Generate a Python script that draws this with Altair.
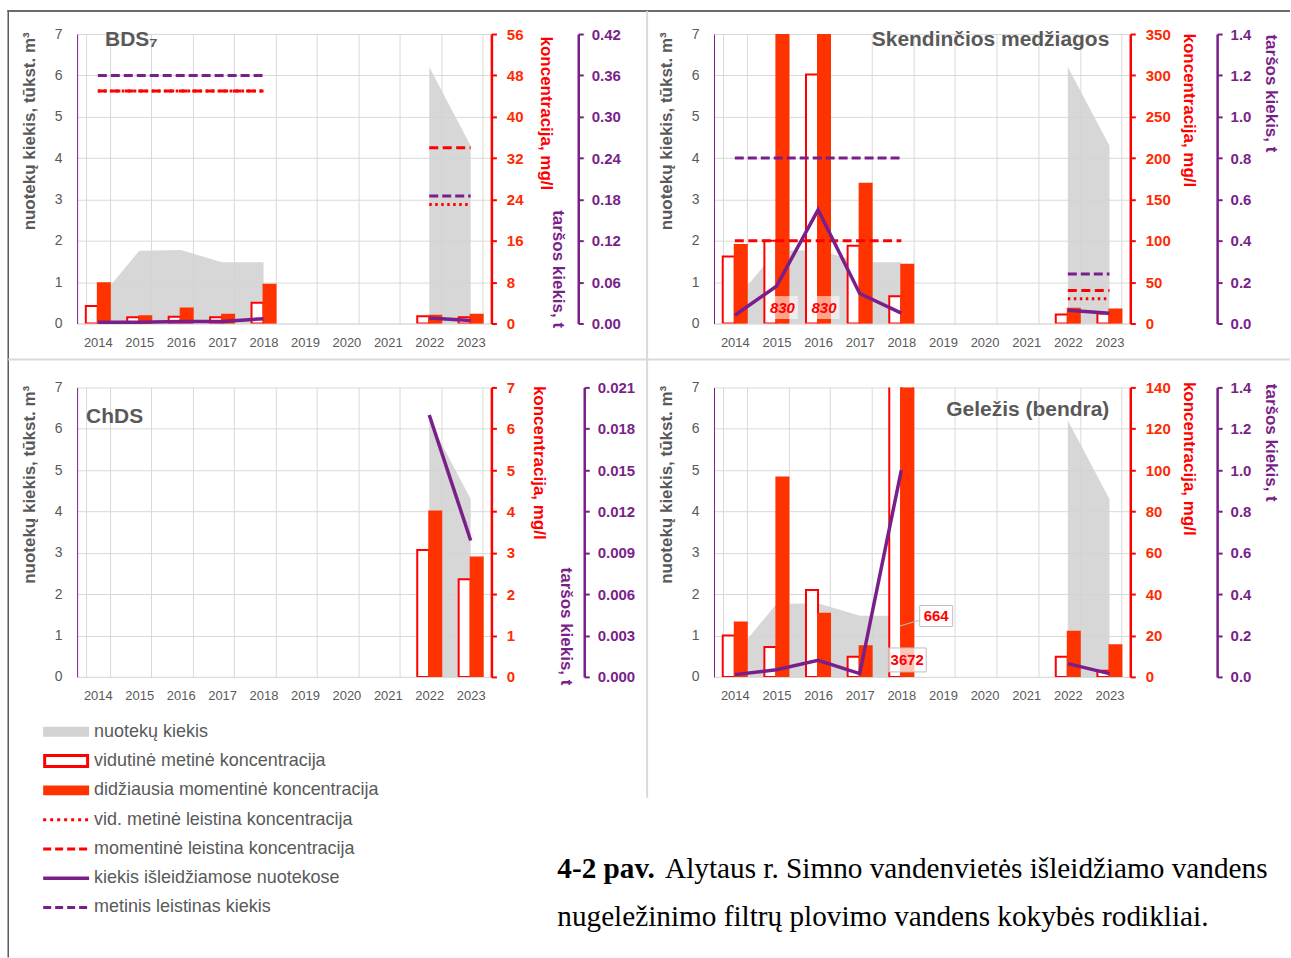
import altair as alt
import pandas as pd

# ---------------------------------------------------------------- data
YEARS = ["2014", "2015", "2016", "2017", "2018", "2019", "2020", "2021", "2022", "2023"]

# nuotekų kiekis, tūkst. m³
FLOW_VOLUME = [0.55, 1.76, 1.78, 1.48, 1.48, None, None, None, 6.2, 4.3]
FLOW_VOLUME_CHDS = [None, None, None, None, None, None, None, None, 6.2, 4.3]

# BDS7, mg/l and t
BDS_AVG = [3.4, 1.2, 1.3, 1.2, 4.0, None, None, None, 1.4, 1.2]
BDS_MAX = [7.8, 1.4, 2.9, 1.7, 7.5, None, None, None, 1.5, 1.7]
BDS_LOAD = [0.002, 0.002, 0.003, 0.003, 0.007, None, None, None, 0.008, 0.0045]
BDS_LIM_AVG = [45, 45, 45, 45, 45, None, None, None, 23, 23]
BDS_LIM_MAX = [45, 45, 45, 45, 45, None, None, None, 34, 34]
BDS_LIM_LOAD = [0.36, 0.36, 0.36, 0.36, 0.36, None, None, None, 0.185, 0.185]
BDS_CONC_TICKS = [0, 8, 16, 24, 32, 40, 48, 56]
BDS_LOAD_TICKS = [0, 0.06, 0.12, 0.18, 0.24, 0.30, 0.36, 0.42]

# Skendinčios medžiagos
SM_AVG = [81, 100, 301, 94, 33, None, None, None, 11, 12]
SM_MAX = [95, 830, 830, 169, 71, None, None, None, 18, 17]
SM_LOAD = [0.04, 0.18, 0.55, 0.145, 0.05, None, None, None, 0.064, 0.05]
SM_LIM_AVG = [None, None, None, None, None, None, None, None, 30, 30]
SM_LIM_MAX = [100, 100, 100, 100, 100, None, None, None, 40, 40]
SM_LIM_LOAD = [0.8, 0.8, 0.8, 0.8, 0.8, None, None, None, 0.24, 0.24]
SM_CONC_TICKS = [0, 50, 100, 150, 200, 250, 300, 350]
SM_LOAD_TICKS = [0, 0.2, 0.4, 0.6, 0.8, 1.0, 1.2, 1.4]

# ChDS
CHDS_AVG = [None, None, None, None, None, None, None, None, 3.07, 2.36]
CHDS_MAX = [None, None, None, None, None, None, None, None, 4.0, 2.89]
CHDS_LOAD = [None, None, None, None, None, None, None, None, 0.019, 0.0099]
CHDS_CONC_TICKS = [0, 1, 2, 3, 4, 5, 6, 7]
CHDS_LOAD_TICKS = [0, 0.003, 0.006, 0.009, 0.012, 0.015, 0.018, 0.021]

# Geležis (bendra)
FE_AVG = [20, 14.5, 42, 9.7, 664, None, None, None, 9.7, 3]
FE_MAX = [26.3, 96.4, 30.6, 14.8, 3672, None, None, None, 21.8, 15.3]
FE_LOAD = [0.011, 0.035, 0.08, 0.016, 1.0, None, None, None, 0.064, 0.016]
FE_CONC_TICKS = [0, 20, 40, 60, 80, 100, 120, 140]
FE_LOAD_TICKS = [0, 0.2, 0.4, 0.6, 0.8, 1.0, 1.2, 1.4]

VOLUME_TICKS = [0, 1, 2, 3, 4, 5, 6, 7]
NO_VALUES = [None, None, None, None, None, None, None, None, None, None]

LEGEND_ITEMS = [
    "nuotekų kiekis",
    "vidutinė metinė koncentracija",
    "didžiausia momentinė koncentracija",
    "vid. metinė leistina koncentracija",
    "momentinė leistina koncentracija",
    "kiekis išleidžiamose nuotekose",
    "metinis leistinas kiekis",
]

CAPTION_LABEL = "4-2 pav."
CAPTION_LINE1 = "Alytaus r. Simno vandenvietės išleidžiamo vandens"
CAPTION_LINE2 = "nugeležinimo filtrų plovimo vandens kokybės rodikliai."

# ---------------------------------------------------------------- style
SANS = "Liberation Sans, Arial, Helvetica, sans-serif"
SERIF = "Liberation Serif, Times New Roman, serif"
GRAY = "#595959"
GRID = "#d9d9d9"
AREA = "#d2d2d2"
RED = "#ff0000"
ORANGE = "#ff3300"
PURPLE = "#7a1f8a"
PLOT_H = 290

XSCALE = alt.Scale(type="band", domain=YEARS, paddingInner=0.42, paddingOuter=0.21)
XAXIS = alt.Axis(
    title=None, labelAngle=0, labelColor=GRAY, labelFontSize=13, labelPadding=13,
    ticks=False, domainColor=GRID, grid=True, gridColor=GRID, tickBand="extent",
)


def x_center():
    return alt.X("year:N", scale=XSCALE, axis=XAXIS, bandPosition=0.5)


def x_band():
    return alt.X("year:N", scale=XSCALE, axis=XAXIS)


def runs(values):
    """Rows for the defined values, numbered by unbroken run of years."""
    rows, seg, prev = [], 0, None
    for year, v in zip(YEARS, values):
        if v is None:
            prev = None
            continue
        if prev is None:
            seg += 1
        rows.append({"year": year, "value": v, "seg": seg})
        prev = v
    return pd.DataFrame(rows, columns=["year", "value", "seg"])


def bar_rows(avg, mx):
    rows = []
    for year, a, m in zip(YEARS, avg, mx):
        if a is not None:
            rows.append({"year": year, "series": "avg", "value": a})
        if m is not None:
            rows.append({"year": year, "series": "max", "value": m})
    df = pd.DataFrame(rows)
    df["label"] = df["value"].map(lambda v: f"{v:.0f}")
    return df


ONE = pd.DataFrame({"k": [0]})


def panel(p):
    conc_max = p["conc_ticks"][-1]
    load_max = p["load_ticks"][-1]

    y_vol = alt.Y(
        "value:Q", scale=alt.Scale(domain=[0, 7], nice=False), stack=False,
        axis=alt.Axis(
            orient="left", values=VOLUME_TICKS, grid=True, gridColor=GRID,
            domainColor=PURPLE, domainWidth=1, ticks=False, labelColor=GRAY,
            labelFontSize=14, labelPadding=15,
            title="nuotekų kiekis, tūkst. m³", titleColor=GRAY, titleFontSize=17,
            titleFontWeight="bold", titleAngle=270, titleAlign="center",
            titleBaseline="middle", titleX=-48, titleY=97,
        ),
    )
    y_conc = alt.Y(
        "value:Q", scale=alt.Scale(domain=[0, conc_max], nice=False),
        axis=alt.Axis(
            orient="right", values=p["conc_ticks"], grid=False,
            domainColor=RED, domainWidth=2.5, tickColor=RED, tickWidth=2, tickSize=5,
            labelColor="#ff2a00", labelFontWeight="bold", labelFontSize=15, labelPadding=10,
            title="koncentracija, mg/l", titleColor=RED, titleFontSize=17,
            titleFontWeight="bold", titleAngle=90, titleAlign="center",
            titleBaseline="middle", titleX=p["conc_title"][0], titleY=p["conc_title"][1],
        ),
    )
    y_load = alt.Y(
        "value:Q", scale=alt.Scale(domain=[0, load_max], nice=False),
        axis=alt.Axis(
            orient="right", offset=p["load_offset"], values=p["load_ticks"],
            format=p["load_fmt"], grid=False,
            domainColor=PURPLE, domainWidth=2.5, tickColor=PURPLE, tickWidth=2, tickSize=5,
            labelColor=PURPLE, labelFontWeight="bold", labelFontSize=15, labelPadding=8,
            title="taršos kiekis, t", titleColor=PURPLE, titleFontSize=17,
            titleFontWeight="bold", titleAngle=90, titleAlign="center",
            titleBaseline="middle", titleX=p["load_title"][0], titleY=p["load_title"][1],
        ),
    )

    # gray area: discharged volume, one piece per unbroken run of years
    area = alt.Chart(runs(p["flow"])).mark_area(color=AREA, opacity=0.88).encode(
        x=x_center(), y=y_vol, detail="seg:N"
    )

    # concentration bars and permitted concentration lines
    bars_df = bar_rows(p["avg"], p["max"])
    bars = alt.Chart(bars_df).mark_bar(clip=True, strokeWidth=2).encode(
        x=x_band(),
        xOffset=alt.XOffset("series:N", scale=alt.Scale(domain=["avg", "max"])),
        y=y_conc,
        fill=alt.Fill("series:N", scale=alt.Scale(domain=["avg", "max"], range=["#ffffff", ORANGE]), legend=None),
        stroke=alt.Stroke("series:N", scale=alt.Scale(domain=["avg", "max"], range=[RED, ORANGE]), legend=None),
    )
    conc_layers = [bars]
    lim_max = runs(p["lim_max"])
    if len(lim_max):
        conc_layers.append(
            alt.Chart(lim_max).mark_line(color=RED, strokeWidth=3, strokeDash=[9, 4.5]).encode(
                x=x_center(), y=y_conc, detail="seg:N"))
    lim_avg = runs(p["lim_avg"])
    if len(lim_avg):
        conc_layers.append(
            alt.Chart(lim_avg).mark_line(color=RED, strokeWidth=3, strokeDash=[2.5, 3.5]).encode(
                x=x_center(), y=y_conc, detail="seg:N"))
    conc = alt.layer(*conc_layers)

    # pollutant load and its annual limit
    load_layers = [
        alt.Chart(runs(p["load"])).mark_line(color=PURPLE, strokeWidth=3.5).encode(
            x=x_center(), y=y_load, detail="seg:N")
    ]
    lim_load = runs(p["lim_load"])
    if len(lim_load):
        load_layers.append(
            alt.Chart(lim_load).mark_line(color=PURPLE, strokeWidth=3, strokeDash=[9, 4]).encode(
                x=x_center(), y=y_load, detail="seg:N"))
    load = alt.layer(*load_layers)

    layers = [area, conc, load]

    # values of bars that run past the top of the scale
    for series, lab in p["labels"].items():
        over = bars_df[(bars_df["series"] == series) & (bars_df["value"] > conc_max)]
        base = alt.Chart(over)
        enc = dict(x=x_band(), xOffset=alt.XOffset("series:N", scale=alt.Scale(domain=["avg", "max"])),
                   y=alt.value(lab["y"]))
        box = dict(shape=lab["box"], size=lab["size"], filled=True, fill="white",
                   fillOpacity=lab["box_opacity"], opacity=1)
        if lab.get("box_stroke"):
            box.update(stroke=lab["box_stroke"], strokeWidth=1)
        else:
            box.update(strokeWidth=0)
        layers.append(base.mark_point(**box).encode(**enc))
        layers.append(
            base.mark_text(font=SANS, fontSize=15, fontWeight="bold", fontStyle=lab["style"],
                           color=RED, dx=lab["dx"], baseline="middle", align="center")
            .encode(text="label:N", **enc))

    layers.append(
        alt.Chart(pd.DataFrame({"t": [p["title"]]})).mark_text(
            font=SANS, fontSize=21, fontWeight="bold", color=GRAY,
            align=p["title_align"], baseline="alphabetic",
        ).encode(x=alt.value(p["title_pos"][0]), y=alt.value(p["title_pos"][1]), text="t:N"))

    layers.extend(p.get("extra", []))

    return (
        alt.layer(*layers)
        .resolve_scale(y="independent")
        .properties(width=p["width"], height=PLOT_H)
    )


# page frame lines (drawn from the first panel's origin)
frame = [
    alt.Chart(ONE).mark_rule(color="#3a3a3a", strokeWidth=1.5).encode(
        x=alt.value(-70), x2=alt.value(1215), y=alt.value(-23)),
    alt.Chart(ONE).mark_rule(color="#5a5a5a", strokeWidth=1.5).encode(
        x=alt.value(-69), y=alt.value(-23), y2=alt.value(925)),
    alt.Chart(ONE).mark_rule(color=GRID, strokeWidth=2).encode(
        x=alt.value(571), y=alt.value(-23), y2=alt.value(765)),
    alt.Chart(ONE).mark_rule(color=GRID, strokeWidth=2).encode(
        x=alt.value(-69), x2=alt.value(1215), y=alt.value(326)),
]

PANELS = [
    dict(title="BDS₇", title_pos=(28, 12), title_align="left", width=415,
         flow=FLOW_VOLUME, avg=BDS_AVG, max=BDS_MAX, load=BDS_LOAD,
         lim_avg=BDS_LIM_AVG, lim_max=BDS_LIM_MAX, lim_load=BDS_LIM_LOAD,
         conc_ticks=BDS_CONC_TICKS, load_ticks=BDS_LOAD_TICKS, load_fmt=".2f",
         load_offset=87, conc_title=(54, 79), load_title=(-21, 235),
         labels={}, extra=frame),
    dict(title="Skendinčios medžiagos", title_pos=(396, 12), title_align="right", width=417,
         flow=FLOW_VOLUME, avg=SM_AVG, max=SM_MAX, load=SM_LOAD,
         lim_avg=SM_LIM_AVG, lim_max=SM_LIM_MAX, lim_load=SM_LIM_LOAD,
         conc_ticks=SM_CONC_TICKS, load_ticks=SM_LOAD_TICKS, load_fmt=".1f",
         load_offset=87, conc_title=(58, 76), load_title=(53, 59),
         labels={"max": dict(y=274, dx=0, style="italic", box="M-1.35,-1H1.35V1H-1.35Z",
                             size=529, box_opacity=0.55)}),
    dict(title="ChDS", title_pos=(9, 36), title_align="left", width=415,
         flow=FLOW_VOLUME_CHDS, avg=CHDS_AVG, max=CHDS_MAX, load=CHDS_LOAD,
         lim_avg=NO_VALUES, lim_max=NO_VALUES, lim_load=NO_VALUES,
         conc_ticks=CHDS_CONC_TICKS, load_ticks=CHDS_LOAD_TICKS, load_fmt=".3f",
         load_offset=93, conc_title=(47, 75), load_title=(-19, 239),
         labels={}),
    dict(title="Geležis (bendra)", title_pos=(396, 29), title_align="right", width=417,
         flow=FLOW_VOLUME, avg=FE_AVG, max=FE_MAX, load=FE_LOAD,
         lim_avg=NO_VALUES, lim_max=NO_VALUES, lim_load=NO_VALUES,
         conc_ticks=FE_CONC_TICKS, load_ticks=FE_LOAD_TICKS, load_fmt=".1f",
         load_offset=87, conc_title=(58, 71), load_title=(53, 55),
         labels={
             "avg": dict(y=229, dx=41, style="normal",
                         box="M2.33,-1H5.48V1H2.33Z M2.33,0.4L0.45,0.95",
                         size=441, box_opacity=1, box_stroke="#bfbfbf"),
             "max": dict(y=273, dx=0, style="normal", box="M-1.58,-1H1.58V1H-1.58Z",
                         size=576, box_opacity=0.72, box_stroke="#bfbfbf"),
         }),
]

panels = [panel(p) for p in PANELS]

# ---------------------------------------------------------------- legend
leg_base = alt.Chart(pd.DataFrame({"item": LEGEND_ITEMS}))
leg_y = alt.Y("item:N", sort=LEGEND_ITEMS,
              scale=alt.Scale(type="point", domain=LEGEND_ITEMS, range=[-9, 167], padding=0),
              axis=None)


def legend_rule(item, color, width, dash=None, x0=-34, x1=12):
    kw = dict(color=color, strokeWidth=width, strokeCap="butt")
    if dash:
        kw["strokeDash"] = dash
    return (leg_base.transform_filter(alt.datum.item == item)
            .mark_rule(**kw).encode(x=alt.value(x0), x2=alt.value(x1), y=leg_y))


legend = alt.layer(
    legend_rule(LEGEND_ITEMS[0], AREA, 10),
    legend_rule(LEGEND_ITEMS[1], RED, 14),
    legend_rule(LEGEND_ITEMS[1], "#ffffff", 8, x0=-31, x1=9),
    legend_rule(LEGEND_ITEMS[2], ORANGE, 10),
    legend_rule(LEGEND_ITEMS[3], RED, 3, dash=[3, 4]),
    legend_rule(LEGEND_ITEMS[4], RED, 3, dash=[8, 4]),
    legend_rule(LEGEND_ITEMS[5], PURPLE, 3.5),
    legend_rule(LEGEND_ITEMS[6], PURPLE, 3, dash=[8, 4]),
    leg_base.mark_text(align="left", baseline="middle", font=SANS, fontSize=18, color=GRAY)
    .encode(x=alt.value(17), y=leg_y, text="item:N"),
).properties(width=415, height=170)

# ---------------------------------------------------------------- caption
cap = pd.DataFrame({"a": [CAPTION_LABEL], "b": [CAPTION_LINE1], "c": [CAPTION_LINE2]})
caption = alt.layer(
    alt.Chart(cap).mark_text(font=SERIF, fontSize=29.3, fontWeight="bold", color="black",
                             align="left", baseline="alphabetic")
    .encode(x=alt.value(-157), y=alt.value(137), text="a:N"),
    alt.Chart(cap).mark_text(font=SERIF, fontSize=29.3, color="black",
                             align="left", baseline="alphabetic")
    .encode(x=alt.value(-49), y=alt.value(137), text="b:N"),
    alt.Chart(cap).mark_text(font=SERIF, fontSize=29.3, color="black",
                             align="left", baseline="alphabetic")
    .encode(x=alt.value(-157), y=alt.value(186), text="c:N"),
).properties(width=417, height=170)

chart = (
    alt.concat(*panels, legend, caption, columns=2,
               spacing={"row": 64, "column": 223}, bounds="flush", align="each")
    .properties(padding={"left": 6.25, "top": 9.25, "right": 0, "bottom": 0}, background="white")
    .configure_view(strokeWidth=0)
    .configure_axis(labelFont=SANS, titleFont=SANS)
)

chart.save("out.html", embed_options={"renderer": "svg", "actions": False})
